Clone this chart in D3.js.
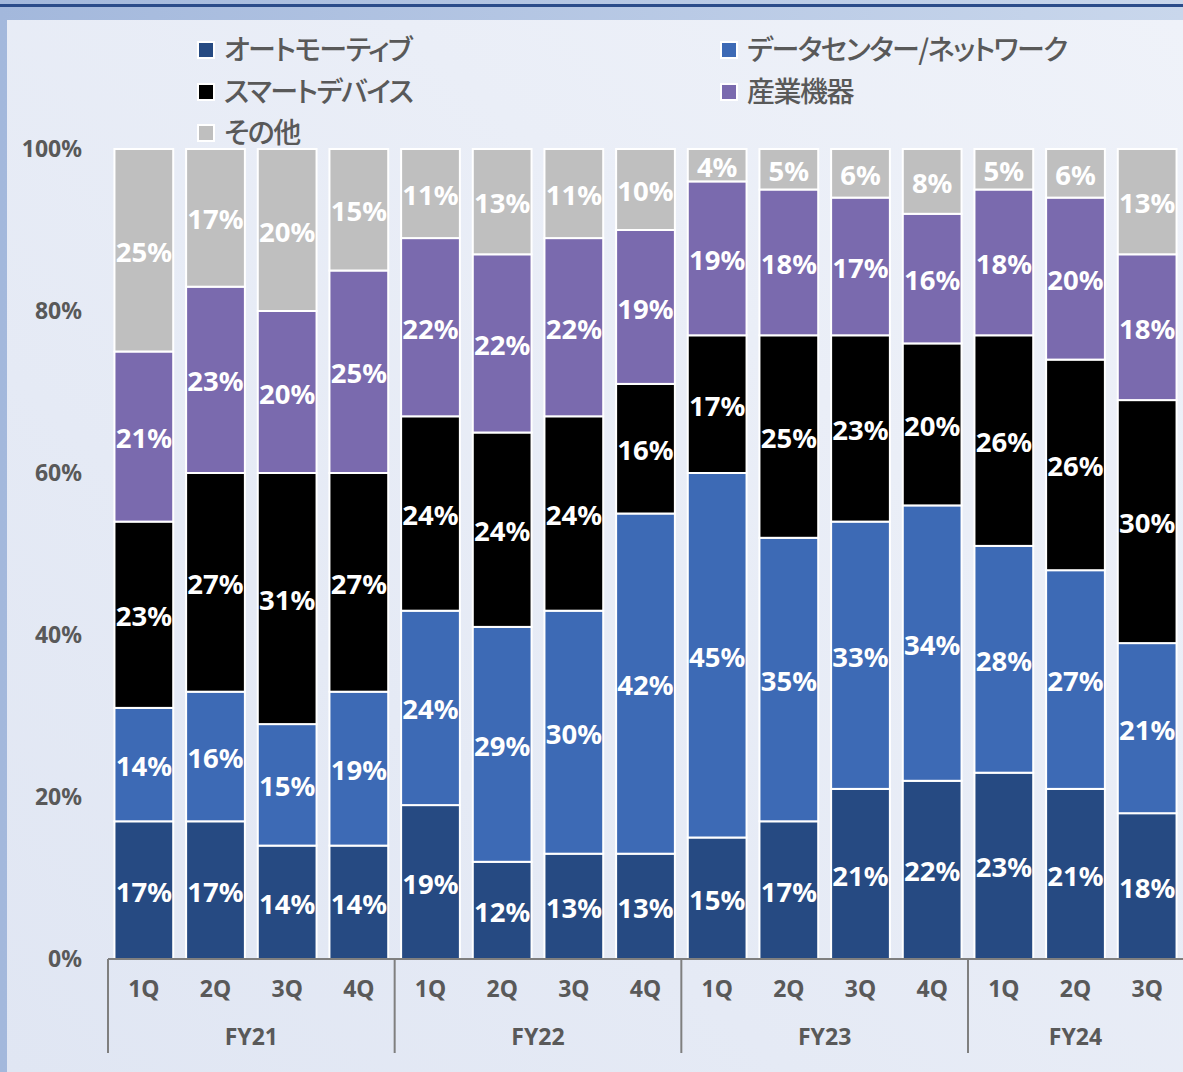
<!DOCTYPE html>
<html>
<head>
<meta charset="utf-8">
<script src="https://cdn.jsdelivr.net/npm/d3@7"></script>
<style>
  html, body { margin: 0; padding: 0; }
  body { width: 1183px; height: 1072px; overflow: hidden; }
  .legend-label { font-feature-settings: "palt" 1; letter-spacing: -1.5px; }
</style>
</head>
<body>
<div id="chart"></div>
<script>
// 四半期・年度
const quarters = ['1Q', '2Q', '3Q', '4Q', '1Q', '2Q', '3Q', '4Q', '1Q', '2Q', '3Q', '4Q', '1Q', '2Q', '3Q'];
const fiscalYears = ['FY21', 'FY21', 'FY21', 'FY21', 'FY22', 'FY22', 'FY22', 'FY22',
                     'FY23', 'FY23', 'FY23', 'FY23', 'FY24', 'FY24', 'FY24'];

// 系列 (下から順)
const seriesNames = ['オートモーティブ', 'データセンター/ネットワーク', 'スマートデバイス', '産業機器', 'その他'];
const automotive = [17, 17, 14, 14, 19, 12, 13, 13, 15, 17, 21, 22, 23, 21, 18];
const datacenter = [14, 16, 15, 19, 24, 29, 30, 42, 45, 35, 33, 34, 28, 27, 21];
const smartDevice = [23, 27, 31, 27, 24, 24, 24, 16, 17, 25, 23, 20, 26, 26, 30];
const industrial = [21, 23, 20, 25, 22, 22, 22, 19, 19, 18, 17, 16, 18, 20, 18];
const others = [25, 17, 20, 15, 11, 13, 11, 10, 4, 5, 6, 8, 5, 6, 13];

const yTicks = [0, 20, 40, 60, 80, 100];

const colors = ['#264a82', '#3d6ab5', '#000000', '#7a6aae', '#bfbfbf'];

const width = 1183;
const height = 1072;
const margin = { top: 149, left: 108, right: 0, bottom: 113 };

const table = quarters.map((q, i) => ({
    idx: i,
    q,
    fy: fiscalYears[i],
    s0: automotive[i],
    s1: datacenter[i],
    s2: smartDevice[i],
    s3: industrial[i],
    s4: others[i]
}));

const keys = ['s0', 's1', 's2', 's3', 's4'];

const svg = d3.select('#chart')
    .append('svg')
    .attr('width', width)
    .attr('height', height);

// 背景
const defs = svg.append('defs');
const frameGrad = defs.append('linearGradient').attr('id', 'frameGrad');
frameGrad.append('stop').attr('offset', '0%').attr('stop-color', '#a3b8dc');
frameGrad.append('stop').attr('offset', '100%').attr('stop-color', '#c9d7ec');
const panelGrad = defs.append('linearGradient').attr('id', 'panelGrad')
    .attr('x1', '0%').attr('y1', '100%').attr('x2', '100%').attr('y2', '0%');
panelGrad.append('stop').attr('offset', '0%').attr('stop-color', '#e0e6f3');
panelGrad.append('stop').attr('offset', '100%').attr('stop-color', '#eff2f9');

svg.append('rect')
    .attr('width', width).attr('height', height)
    .attr('fill', 'url(#frameGrad)');
svg.append('rect')
    .attr('x', 0).attr('y', 4).attr('width', width).attr('height', 3)
    .attr('fill', '#2b4c8a');
svg.append('rect')
    .attr('x', 7).attr('y', 20).attr('width', width - 7).attr('height', height - 20)
    .attr('fill', 'url(#panelGrad)');

const x = d3.scaleBand()
    .domain(d3.range(table.length))
    .range([margin.left, width - margin.right])
    .paddingInner(0.18)
    .paddingOuter(0.09);

const y = d3.scaleLinear()
    .domain([0, 100])
    .range([height - margin.bottom, margin.top]);

const stacked = d3.stack().keys(keys)(table);

// 棒
const layers = svg.append('g')
    .selectAll('g')
    .data(stacked)
    .join('g')
    .attr('fill', (d, i) => colors[i]);

layers.selectAll('rect')
    .data(d => d)
    .join('rect')
    .attr('x', d => x(d.data.idx))
    .attr('y', d => y(d[1]))
    .attr('width', x.bandwidth())
    .attr('height', d => y(d[0]) - y(d[1]))
    .attr('stroke', '#ffffff')
    .attr('stroke-width', 2);

// ラベル
layers.selectAll('text')
    .data(d => d)
    .join('text')
    .attr('x', d => x(d.data.idx) + x.bandwidth() / 2)
    .attr('y', d => (y(d[0]) + y(d[1])) / 2)
    .attr('dy', '0.42em')
    .attr('text-anchor', 'middle')
    .attr('fill', '#ffffff')
    .attr('font-family', '"Noto Sans", "Open Sans", sans-serif')
    .attr('font-weight', 'bold')
    .attr('font-size', '27.5px')
    .text(d => `${d[1] - d[0]}%`);

// Y軸
const yAxis = g => g
    .attr('transform', 'translate(82, 0)')
    .call(d3.axisLeft(y).tickValues(yTicks).tickSize(0).tickPadding(0).tickFormat(d => `${d}%`))
    .call(g => g.select('.domain').remove())
    .selectAll('text')
    .attr('fill', '#595959')
    .attr('font-family', '"Noto Sans", "Open Sans", sans-serif')
    .attr('font-weight', 'bold')
    .attr('font-size', '23px');

svg.append('g').call(yAxis);

// X軸
const xAxis = g => g
    .attr('transform', `translate(0, ${y(0)})`)
    .call(d3.axisBottom(x).tickSize(0).tickPadding(22).tickFormat(i => quarters[i]))
    .call(g => g.select('.domain').attr('stroke', '#7f7f7f').attr('stroke-width', 2)
        .attr('d', `M${margin.left},0H${width}`))
    .selectAll('text')
    .attr('fill', '#595959')
    .attr('font-family', '"Noto Sans", "Open Sans", sans-serif')
    .attr('font-weight', 'bold')
    .attr('font-size', '23px');

svg.append('g').call(xAxis);

// 年度グループ
const groups = d3.groups(table, d => d.fy);
const step = x.step();

svg.append('g')
    .selectAll('line')
    .data(groups)
    .join('line')
    .attr('x1', d => x(d[1][0].idx) - step * x.paddingInner() / 2)
    .attr('x2', d => x(d[1][0].idx) - step * x.paddingInner() / 2)
    .attr('y1', y(0))
    .attr('y2', y(0) + 94)
    .attr('stroke', '#7f7f7f')
    .attr('stroke-width', 2);

svg.append('g')
    .selectAll('text')
    .data(groups)
    .join('text')
    .attr('x', d => d3.mean(d[1], r => x(r.idx) + x.bandwidth() / 2))
    .attr('y', y(0) + 86)
    .attr('text-anchor', 'middle')
    .attr('fill', '#595959')
    .attr('font-family', '"Noto Sans", "Open Sans", sans-serif')
    .attr('font-weight', 'bold')
    .attr('font-size', '23px')
    .text(d => d[0]);

// 凡例
const legendPos = [
    { x: 197, y: 50 }, { x: 720, y: 50 },
    { x: 197, y: 92 }, { x: 720, y: 92 },
    { x: 197, y: 133 }
];

const legend = svg.append('g')
    .selectAll('g')
    .data(seriesNames)
    .join('g')
    .attr('transform', (d, i) => `translate(${legendPos[i].x}, ${legendPos[i].y})`);

legend.append('rect')
    .attr('x', 1).attr('y', -8)
    .attr('width', 16).attr('height', 16)
    .attr('fill', (d, i) => colors[i])
    .attr('stroke', '#ffffff')
    .attr('stroke-width', 2);

legend.append('text')
    .attr('class', 'legend-label')
    .attr('x', 27)
    .attr('dy', '0.36em')
    .attr('fill', '#595959')
    .attr('font-family', '"Noto Sans CJK JP", sans-serif')
    .attr('font-weight', 500)
    .attr('font-size', '28px')
    .text(d => d);
</script>
</body>
</html>
